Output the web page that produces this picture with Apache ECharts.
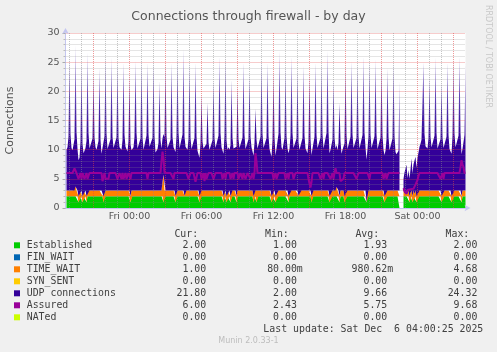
<!DOCTYPE html>
<html><head><meta charset="utf-8">
<script src="https://cdn.jsdelivr.net/npm/echarts@6/dist/echarts.min.js"></script>
<style>html,body{margin:0;padding:0;background:#f0f0f0}#c{width:497px;height:352px}</style>
</head><body><div id="c"></div>
<script>
// ---------- legend / table data ----------
const seriesNames = ['Established','FIN_WAIT','TIME_WAIT','SYN_SENT','UDP connections','Assured','NATed'];
const seriesColors = ['#00cc00','#0066b3','#ff8000','#ffcc00','#330099','#990099','#ccff00'];
const curValues = ['2.00','0.00','1.00','0.00','21.80','6.00','0.00'];
const minValues = ['1.00','0.00','80.00m','0.00','2.00','2.43','0.00'];
const avgValues = ['1.93','0.00','980.62m','0.00','9.66','5.75','0.00'];
const maxValues = ['2.00','0.00','4.68','0.00','24.32','9.68','0.00'];
const headerLabels = ['Cur:','Min:','Avg:','Max:'];
const dayNames = ['Sun','Mon','Tue','Wed','Thu','Fri','Sat'];
const lastUpdate = 'Last update: Sat Dec  6 04:00:25 2025';

// ---------- time range (5-minute samples) ----------
const startTime = new Date(2025, 11, 4, 18, 40).getTime();
const endTime = new Date(2025, 11, 6, 4, 0).getTime();
const stepMs = 5 * 60 * 1000;

// ---------- series values, one per 5 minutes (400 samples) ----------
const established = [
 2,2,2,2,2,2,2,2,2,2,2,2,1,2,2,2,1,2,2,2,
 1,2,2,2,2,2,2,2,2,2,2,2,2,2,2,2,2,1,2,2,
 2,2,2,2,2,2,2,2,2,2,2,2,2,2,2,2,2,2,2,2,
 2,2,2,2,1,2,2,2,2,2,2,2,2,2,2,2,2,2,2,2,
 2,2,2,2,2,2,2,2,2,2,2,2,2,2,2,2,2,1,2,2,
 2,2,2,2,2,2,2,2,2,1,2,2,2,2,2,2,2,2,2,2,
 2,2,2,2,2,2,2,2,2,2,2,2,2,1,2,2,2,2,2,2,
 2,2,2,2,2,2,2,2,2,2,2,2,2,2,2,2,2,1,2,2,
 1,2,2,2,1,2,2,2,2,2,1,2,2,2,2,2,2,2,2,2,
 2,2,2,2,2,2,2,1,2,2,1,2,2,2,2,2,2,2,2,2,
 2,2,2,2,2,1,2,2,2,1,2,2,2,2,2,2,2,2,2,2,
 2,2,1,2,2,2,2,2,2,2,2,2,2,2,2,2,2,2,2,2,
 2,2,2,2,2,1,2,2,2,2,2,2,2,2,2,2,2,2,2,2,
 2,2,2,1,2,2,2,2,2,2,2,2,2,1,2,2,2,2,1,2,
 2,2,2,2,2,2,2,2,2,2,2,2,2,2,2,2,2,2,2,2,
 1,2,2,2,2,2,2,2,2,2,2,2,2,2,2,2,2,2,1,2,
 2,2,2,2,2,2,2,2,2,2,2,2,2,2,null,null,null,2,2,2,
 2,2,2,1,2,2,1,2,2,2,1,2,2,2,2,2,2,2,2,2,
 2,2,2,2,2,2,2,2,2,2,2,2,2,2,2,1,2,2,2,2,
 2,2,2,2,2,1,2,2,2,2,2,2,2,2,2,1,2,2,2,2
];
const timeWait = [
 1,1,1,1,1,1,1,1,1,1.7,1,1,1,1,1,1,1,1,1,1,
 1,1,1,1,1,1,1,1,1,1,1,1,1,1,1,1,0.1,1,1,1,
 1,1,1,1,1,1,1,1,1,1,1,1,1,1,1,1,1,1,1,1,
 1,1,1,1,1,1,1,1,1,1,1,1,1,1,1,1,1,1,1,1,
 1,1,1,1,1,1,1,1,1,1,1,1,1,1,1,1,2.5,4.68,1,1,
 1,1,1,1,1,1,1,1,1,1,1,1,1,1,1,1,1,1,0.1,1,
 1,1,1,1,1,1,1,1,1,1,1,1,1,1,1,1,1,1,1,1,
 1,1,1,1,1,1,1,1,1,1,1,1,1,1,1,1,1,1,1,1,
 1,1,1,1,1,1,1,1,1,1,1,1,1,1,1,1,1,1,1,1,
 1,1,1,1,1,1,1,1,1,1,2.2,1,1,1,1,1,1,1,1,1,
 1,1,1,1,1,1,1,1,1,1,1,1,1,1,1,1,1,1,1,1,
 1,1,1,1,1,1,1,1,1,1,1,1,0.1,1,1,1,1,1,1,1,
 1,1,1,1,1,1,1,1,1,1,1,1,1,1,1,1,1,1,1,1,
 1,1,1,1,1,1,1,1,1,1,1.6,1,1,1,1,1,1,1,1,1,
 1,1,1,1,1,1,1,1,1,1,1,1,1,1,1,1,1,1,1,1,
 0.08,1,1,1,1,1,1,1,1,1,1,1,1,1,1,1,1,1,1,1,
 1,1,1,1,1,1,1,1,1,1,1,1,1,1,null,null,null,1,0.5,1,
 1,0.3,1,1,0.6,1,1,1,0.4,1,1,1,1,1,1,1,1,1,1,1,
 1,1,1,1,1,1,1,1,1,1,1,1,1,1,1,1,1,1,1,1,
 1,1,1,1,1,1,1,1,1,1,1,1,1,1,1,1,1,1,1,1
];
const udpConnections = [
 7.0,7.4,9.2,22.8,9.6,7.3,
 6.9,7.2,8.8,24.3,10.0,7.1,
 6.2,5.6,8.4,22.2,9.0,6.4,
 6.8,7.3,9.5,23.7,9.8,7.2,
 7.3,6.9,8.9,20.5,9.1,7.4,
 7.0,6.8,8.5,21.0,8.7,6.3,
 6.9,7.3,9.3,23.0,9.7,7.1,
 7.4,7.2,8.8,22.8,9.2,7.3,
 7.0,7.5,9.1,22.2,9.0,7.4,
 7.2,7.0,8.6,22.0,9.5,7.5,
 7.3,6.7,8.5,20.0,8.9,6.9,
 7.1,7.4,9.2,22.2,9.8,7.2,
 7.5,7.3,8.9,22.5,9.1,7.0,
 6.9,7.2,9.4,22.0,9.6,7.5,
 7.2,7.5,9.0,22.2,9.3,6.5,
 6.8,7.1,8.2,18.8,8.6,7.2,
 7.4,7.0,9.1,22.0,9.4,7.3,
 7.1,7.3,8.7,22.0,9.2,7.4,
 7.3,7.6,9.3,22.8,9.9,7.2,
 6.9,7.2,9.6,24.3,10.1,7.5,
 7.2,7.0,8.8,22.0,9.0,7.1,
 7.4,7.3,9.0,22.0,9.3,6.8,
 7.0,6.6,8.1,16.5,8.4,7.2,
 7.3,7.1,8.0,15.0,8.3,7.0,
 6.9,7.2,8.6,19.0,8.9,7.3,
 7.2,7.5,9.4,23.0,9.8,7.4,
 7.1,7.3,9.3,23.0,9.6,7.0,
 7.4,7.0,8.7,19.0,9.0,7.2,
 7.0,7.2,8.5,18.0,8.8,7.3,
 7.3,7.4,9.1,22.0,9.5,7.1,
 7.1,6.9,8.8,20.0,9.2,7.4,
 7.2,7.0,8.2,14.0,8.5,7.2,
 7.4,7.3,9.2,22.5,9.7,7.3,
 7.0,7.2,9.0,22.0,9.4,7.1,
 7.3,6.8,8.6,20.5,9.1,7.0,
 7.2,7.4,9.7,24.0,10.0,7.4,
 7.0,7.3,9.0,21.4,9.3,7.2,
 7.4,7.1,9.4,23.0,9.8,7.3,
 7.1,7.2,8.9,21.0,9.2,7.0,
 7.3,7.0,9.0,21.4,9.4,7.2,
 6.8,6.4,8.4,20.2,8.8,7.1,
 7.2,7.4,9.2,22.0,9.5,7.3,
 7.1,7.3,9.1,22.0,9.6,7.2,
 7.3,7.5,9.8,24.0,10.1,7.4,
 7.0,7.1,8.7,19.0,9.0,7.2,
 7.2,6.9,8.2,16.0,8.5,6.3,
 7.0,7.3,9.1,21.7,9.4,7.1,
 7.4,7.2,9.2,22.2,9.6,7.3,
 7.1,7.3,9.0,21.7,9.3,7.2,
 7.3,7.4,9.5,23.0,9.9,7.4,
 7.2,7.1,9.2,22.2,9.5,7.3,
 7.0,7.4,9.3,22.5,9.6,7.1,
 7.3,7.2,9.1,22.0,9.4,7.0,
 7.1,6.8,8.8,21.0,9.2,6.9,
 7.0,6.9,8.9,22.0,9.3,6.6,
 6.2,5.9,6.8,18.8,null,null,
 null,2.0,3.6,3.2,4.4,2.8,
 3.5,3.0,4.0,5.5,3.9,4.5,
 4.8,5.8,4.9,5.6,6.5,7.5,
 8.0,8.7,9.0,22.0,9.7,7.6,
 7.3,7.2,8.9,19.7,9.2,7.4,
 7.1,7.5,9.4,22.8,9.8,7.2,
 7.3,7.0,8.8,19.7,9.1,7.3,
 7.2,7.4,9.2,22.0,9.5,7.1,
 7.0,7.3,9.3,22.5,9.7,7.4,
 7.3,7.1,9.4,23.0,9.9,7.2,
 7.1,7.4,9.5,21.8
];
const assured = [
 6,6,6,6,6,6,6,6,6.8,6.8,6,6,5,5,6,5,6,6,5,5,
 6,5,5,6,6,6,6,6,6,6,6,6,6,6,6,6,4.6,4.6,6,5,
 5,5,5,6,6,6,6,6,6,6,6,5,5,6,6,5,6,5,5,6,
 5,5,6,6,5,6,6,6,6,6,6,6,6,6,6,6,6,6,6,6,
 6,5,6,6,6,6,6,6,6,6,6,6,6,6,6,8,9.68,8.5,6,6,
 6,6,6,6,6,6,6,5,6,6,6,6,6,6,6,6,6,6,6,6,
 6,6,5,5,6,6,6,6,6,4.5,4.5,6,6,6,6,5,5,6,4.6,6,
 5,5,6,6,6,6,6,5,5,6,6,6,6,6,6,6,5,5,6,5,
 6,6,6,6,5,5,6,5,6,6,6,6,5,5,6,6,5,6,6,5,
 5,6,6,6,5,5,6,5,6,9.4,8,6,6,6,6,6,6,6,6,6,
 6,6,6,6,6,6,6,5,5,6,5,5,6,6,6,6,6,6,6,5,
 5,6,5,6,6,6,6,5,5,6,6,6,6,6,6,6,6,6,6,6,
 6,6,5,4.2,3.5,4.5,6,6,6,6,6,6,6,6,5,5,6,5,6,6,
 6,6,6,6,5,5,6,5,6,6.8,6,6,6,6,4.6,4.5,4.5,5,6,6,
 6,6,6,6,6,6,6,6,6,6,5,5,6,6,6,6,6,6,6,6,
 6,6,6,5,6,6,6,6,6,6,6,6,6,6,6,6,6,5,5,6,
 5,5,6,6,6,6,6,6,6,6,6,6,6,6,null,null,null,3.4,2.9,3.2,
 2.43,3.1,3.3,2.9,3.2,3.5,3.0,3.3,3.5,4,4.2,4.8,5.5,6,6,6,6,6,6,6,
 6,6,6,6,6,6,6,6,6,6,6,6,6,6,5,5,6,5,6,6,
 6,6,6,6,6,6,6,6,6,6,6,6,6,6,7,8.2,7.5,7,6,6
];

// ---------- build ----------
const sampleTime = j => startTime + (j + 1) * stepMs;
const toPairs = arr => arr.map((v, j) => [sampleTime(j), v]);

const gridLines = [];
for (let t = startTime + 20 * 60 * 1000; t < endTime; t += 3600 * 1000) {
  const major = new Date(t).getHours() % 3 === 0;
  gridLines.push({ xAxis: t, lineStyle: { color: major ? 'rgba(225,70,70,0.55)' : 'rgba(140,140,140,0.5)', type: [1, 1], width: 1 } });
}

const MONO = '"DejaVu Sans Mono"';
const textColor = '#404040';
const charW = 5.94;
const colRight = [212.2, 302.8, 393.2, 483.3];
const rowTop = 245.7, rowH = 12;
const columns = [curValues, minValues, avgValues, maxValues];

const graphic = [];
graphic.push({ type: 'text', x: 10, y: 120.5, rotation: Math.PI / 2,
  style: { text: 'Connections', align: 'center', verticalAlign: 'middle', textAlign: 'center', textVerticalAlign: 'middle', font: '11px "DejaVu Sans"', fill: '#555' } });
graphic.push({ type: 'text', x: 488.5, y: 56.5, rotation: -Math.PI / 2,
  style: { text: 'RRDTOOL / TOBI OETIKER', align: 'center', verticalAlign: 'middle', textAlign: 'center', textVerticalAlign: 'middle', font: '8px "DejaVu Sans"', fill: '#c8c8c8' } });
headerLabels.forEach((h, c) => graphic.push({ type: 'text', x: colRight[c] - 14, y: 234,
  style: { text: h, align: 'right', verticalAlign: 'middle', textAlign: 'right', textVerticalAlign: 'middle', font: '9.9px ' + MONO, fill: textColor } }));
seriesNames.forEach((name, r) => {
  const y = rowTop + r * rowH;
  graphic.push({ type: 'rect', shape: { x: 14, y: y - 3.4, width: 6, height: 6 }, style: { fill: seriesColors[r] } });
  graphic.push({ type: 'text', x: 26.7, y,
    style: { text: name, align: 'left', verticalAlign: 'middle', textAlign: 'left', textVerticalAlign: 'middle', font: '9.9px ' + MONO, fill: textColor } });
  columns.forEach((col, c) => {
    const v = col[r];
    const suffixed = /[a-z]$/i.test(v);
    graphic.push({ type: 'text', x: suffixed ? colRight[c] : colRight[c] - charW, y,
      style: { text: v, align: 'right', verticalAlign: 'middle', textAlign: 'right', textVerticalAlign: 'middle', font: '9.9px ' + MONO, fill: textColor } });
  });
});
graphic.push({ type: 'text', x: 483.3, y: 329.7,
  style: { text: lastUpdate, align: 'right', verticalAlign: 'middle', textAlign: 'right', textVerticalAlign: 'middle', font: '9.9px ' + MONO, fill: textColor } });
graphic.push({ type: 'text', x: 248.5, y: 341.3,
  style: { text: 'Munin 2.0.33-1', align: 'center', verticalAlign: 'middle', textAlign: 'center', textVerticalAlign: 'middle', font: '8px "DejaVu Sans"', fill: '#bdbdbd' } });

const pad = n => (n < 10 ? '0' : '') + n;
const areaSeries = (name, data, color, fill) => ({
  name, type: 'line', stack: 'total', data: toPairs(data), symbol: 'none', showSymbol: false,
  color, lineStyle: { width: 0, opacity: 0 }, areaStyle: { color: fill || color, opacity: 1 }, z: 2, silent: true
});
// fading fill for the tall, thin UDP peaks (pixel gradient over the plot height)
const udpFill = { type: 'linear', x: 0, y: 33, x2: 0, y2: 208, global: true, colorStops: [
  { offset: 0, color: '#d6cdee' },
  { offset: 0.12, color: '#a897d6' },
  { offset: 0.3, color: '#7257c0' },
  { offset: 0.47, color: '#4522a6' },
  { offset: 0.6, color: '#330099' },
  { offset: 1, color: '#330099' }
] };

const option = {
  animation: false,
  backgroundColor: '#f0f0f0',
  title: { text: 'Connections through firewall - by day', left: 'center', top: 5,
    textStyle: { fontFamily: 'DejaVu Sans', fontSize: 12.5, fontWeight: 'normal', color: '#555' } },
  grid: { left: 65.5, top: 33, width: 400, height: 175, show: true, backgroundColor: '#ffffff', borderWidth: 0 },
  xAxis: {
    type: 'time', min: startTime, max: endTime, z: 3, splitNumber: 17,
    axisLine: { show: true, lineStyle: { color: '#c4c6f0', width: 1 }, symbol: ['none', 'arrow'], symbolSize: [5, 6], symbolOffset: [0, 5] },
    axisTick: { show: false },
    splitLine: { show: false },
    axisLabel: {
      color: '#555', fontFamily: 'DejaVu Sans', fontSize: 9.5, margin: 4, hideOverlap: false,
      formatter: v => { const d = new Date(v); if (d.getMinutes() !== 0 || d.getHours() % 6 !== 0) return ''; return dayNames[d.getDay()] + ' ' + pad(d.getHours()) + ':' + pad(d.getMinutes()); }
    }
  },
  yAxis: {
    type: 'value', min: 0, max: 30, interval: 5, z: 3,
    axisLine: { show: true, lineStyle: { color: '#c4c6f0', width: 1 }, symbol: ['none', 'arrow'], symbolSize: [5, 6], symbolOffset: [0, 5] },
    axisTick: { show: true, length: 3, lineStyle: { color: '#aaa' } },
    minorTick: { show: true, splitNumber: 5, length: 2, lineStyle: { color: '#bbb' } },
    axisLabel: { color: '#555', fontFamily: 'DejaVu Sans', fontSize: 9.5, margin: 6 },
    splitLine: { show: true, lineStyle: { color: 'rgba(225,70,70,0.55)', type: [1, 1], width: 1 } },
    minorSplitLine: { show: true, lineStyle: { color: 'rgba(140,140,140,0.45)', type: [1, 1], width: 1 } }
  },
  graphic,
  series: [
    areaSeries(seriesNames[0], established, seriesColors[0]),
    areaSeries(seriesNames[2], timeWait, seriesColors[2]),
    Object.assign(areaSeries(seriesNames[4], udpConnections, seriesColors[4], udpFill), {
      markLine: { silent: true, symbol: ['none', 'none'], label: { show: false }, animation: false, z: 4, data: gridLines }
    }),
    { name: seriesNames[5], type: 'line', data: toPairs(assured), symbol: 'none', showSymbol: false,
      lineStyle: { width: 2, color: seriesColors[5] }, color: seriesColors[5], z: 6, silent: true }
  ]
};
const chart = echarts.init(document.getElementById('c'), null, { renderer: 'canvas' });
chart.setOption(option);
</script></body></html>
